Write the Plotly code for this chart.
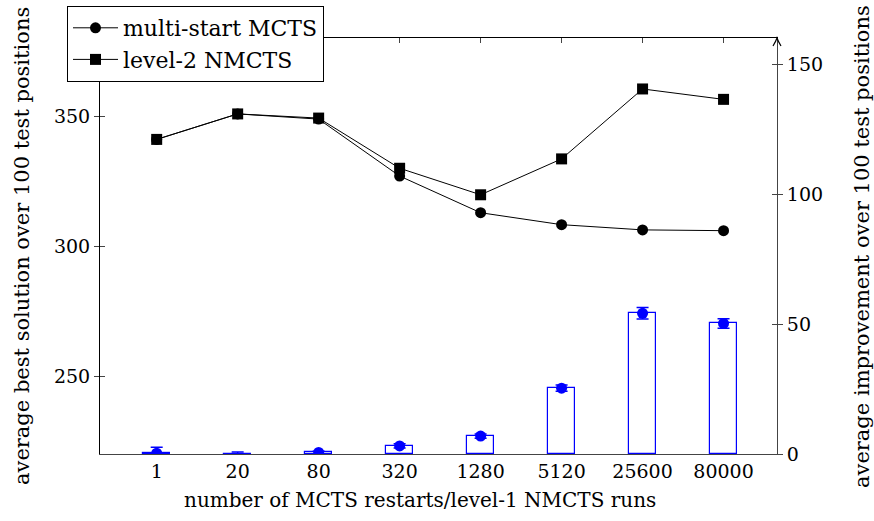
import plotly.graph_objects as go

categories = ["1", "20", "80", "320", "1280", "5120", "25600", "80000"]
mcts = [341.0, 350.8, 348.8, 326.9, 312.8, 308.2, 306.2, 305.9]
nmcts = [341.0, 350.8, 349.2, 329.9, 319.7, 333.5, 360.4, 356.4]
improvement = [0.3, -2.0, 0.6, 3.1, 6.9, 25.3, 54.1, 50.2]
improvement_err = [2.3, 2.8, 0.5, 0.8, 0.8, 1.2, 2.2, 1.8]
left_ticks = [250, 300, 350]
right_ticks = [0, 50, 100, 150]

xs = list(range(len(categories)))
FONT = "DejaVu Serif"

fig = go.Figure()
fig.add_trace(go.Scatter(x=xs, y=mcts, mode="lines+markers", name="multi-start MCTS",
                         line=dict(color="black", width=1),
                         marker=dict(symbol="circle", size=11, color="black"),
                         legendgroup="a", xaxis="x", yaxis="y"))
fig.add_trace(go.Scatter(x=xs, y=nmcts, mode="lines+markers", name="level-2 NMCTS",
                         line=dict(color="black", width=1),
                         marker=dict(symbol="square", size=11, color="black"),
                         legendgroup="b", xaxis="x", yaxis="y"))
fig.add_trace(go.Bar(x=xs, y=improvement, width=0.33, showlegend=False,
                     marker=dict(color="white", line=dict(color="#0000ff", width=1.2)),
                     xaxis="x", yaxis="y2"))
fig.add_trace(go.Scatter(x=xs, y=improvement, mode="markers", showlegend=False,
                         marker=dict(symbol="circle", size=11, color="#0000ff"),
                         error_y=dict(type="data", array=improvement_err, color="#0000ff",
                                      thickness=1.5, width=6),
                         cliponaxis=True, xaxis="x", yaxis="y2"))
# helper traces for crossing tick marks / top ticks
fig.add_trace(go.Scatter(x=[], y=[], xaxis="x2", yaxis="y3", showlegend=False))
fig.add_trace(go.Scatter(x=[], y=[], xaxis="x", yaxis="y4", showlegend=False))

xr = [-0.7, 7.66]
fig.update_layout(
    width=874, height=521,
    margin=dict(l=100, r=97, t=38, b=67, autoexpand=False),
    paper_bgcolor="white", plot_bgcolor="white",
    font=dict(family=FONT, size=19, color="black"),
    showlegend=True,
    bargap=0,
    xaxis=dict(range=xr, tickmode="array", tickvals=xs, ticktext=categories, tickangle=0,
               showgrid=False, zeroline=False, showline=True, linecolor="#444", linewidth=1,
               ticks="", tickfont=dict(size=19), fixedrange=True, automargin=False),
    xaxis2=dict(range=xr, overlaying="x", side="top", anchor="y", tickmode="array", tickvals=xs,
                showticklabels=False, ticks="inside", ticklen=5, tickcolor="#444",
                showline=True, linecolor="black", linewidth=1, showgrid=False, zeroline=False),
    yaxis=dict(range=[220, 380], tickmode="array", tickvals=left_ticks, showgrid=False,
               zeroline=False, showline=True, linecolor="black", linewidth=1, automargin=False,
               ticks="outside", ticklen=5, tickcolor="#444", tickfont=dict(size=19)),
    yaxis3=dict(range=[220, 380], overlaying="y", side="left", anchor="x2", tickmode="array",
                tickvals=left_ticks, showticklabels=False, ticks="inside", ticklen=5,
                tickcolor="#444", showgrid=False, zeroline=False, showline=False),
    yaxis2=dict(range=[0, 160], overlaying="y", side="right", anchor="x", tickmode="array",
                tickvals=right_ticks, showgrid=False, zeroline=False, showline=True,
                linecolor="#444", linewidth=1, ticks="outside", ticklen=5, tickcolor="#444",
                tickfont=dict(size=19), automargin=False),
    yaxis4=dict(range=[0, 160], overlaying="y", side="right", anchor="x", tickmode="array",
                tickvals=right_ticks, showticklabels=False, ticks="inside", ticklen=5,
                tickcolor="#444", showgrid=False, zeroline=False, showline=False),
    legend=dict(xref="container", yref="container", x=67 / 874, y=1 - 6 / 521,
                xanchor="left", yanchor="top", bgcolor="white", bordercolor="black",
                borderwidth=1, font=dict(family=FONT, size=22), itemwidth=45,
                tracegroupgap=0, traceorder="normal"),
    annotations=[
        dict(text="number of MCTS restarts/level-1 NMCTS runs", xref="paper", yref="paper",
             x=(420 - 100) / 677, y=(454 - 500) / 416, xanchor="center", yanchor="middle",
             showarrow=False, font=dict(size=20)),
        dict(text="average best solution over 100 test positions", xref="paper", yref="paper",
             x=(22 - 100) / 677, y=0.5, xanchor="center", yanchor="middle", textangle=-90,
             showarrow=False, font=dict(size=21)),
        dict(text="average improvement over 100 test positions", xref="paper", yref="paper",
             x=(862 - 100) / 677, y=0.5, xanchor="center", yanchor="middle", textangle=-90,
             showarrow=False, font=dict(size=21)),
    ],
    shapes=[
        dict(type="path", xref="paper", yref="paper", xsizemode="pixel", ysizemode="pixel",
             xanchor=1, yanchor=1, path="M -4,-8 Q -1,-3 0,0 Q 1,-3 4,-8",
             line=dict(color="black", width=1.2)),
    ],
)

fig.write_html("out.html")
